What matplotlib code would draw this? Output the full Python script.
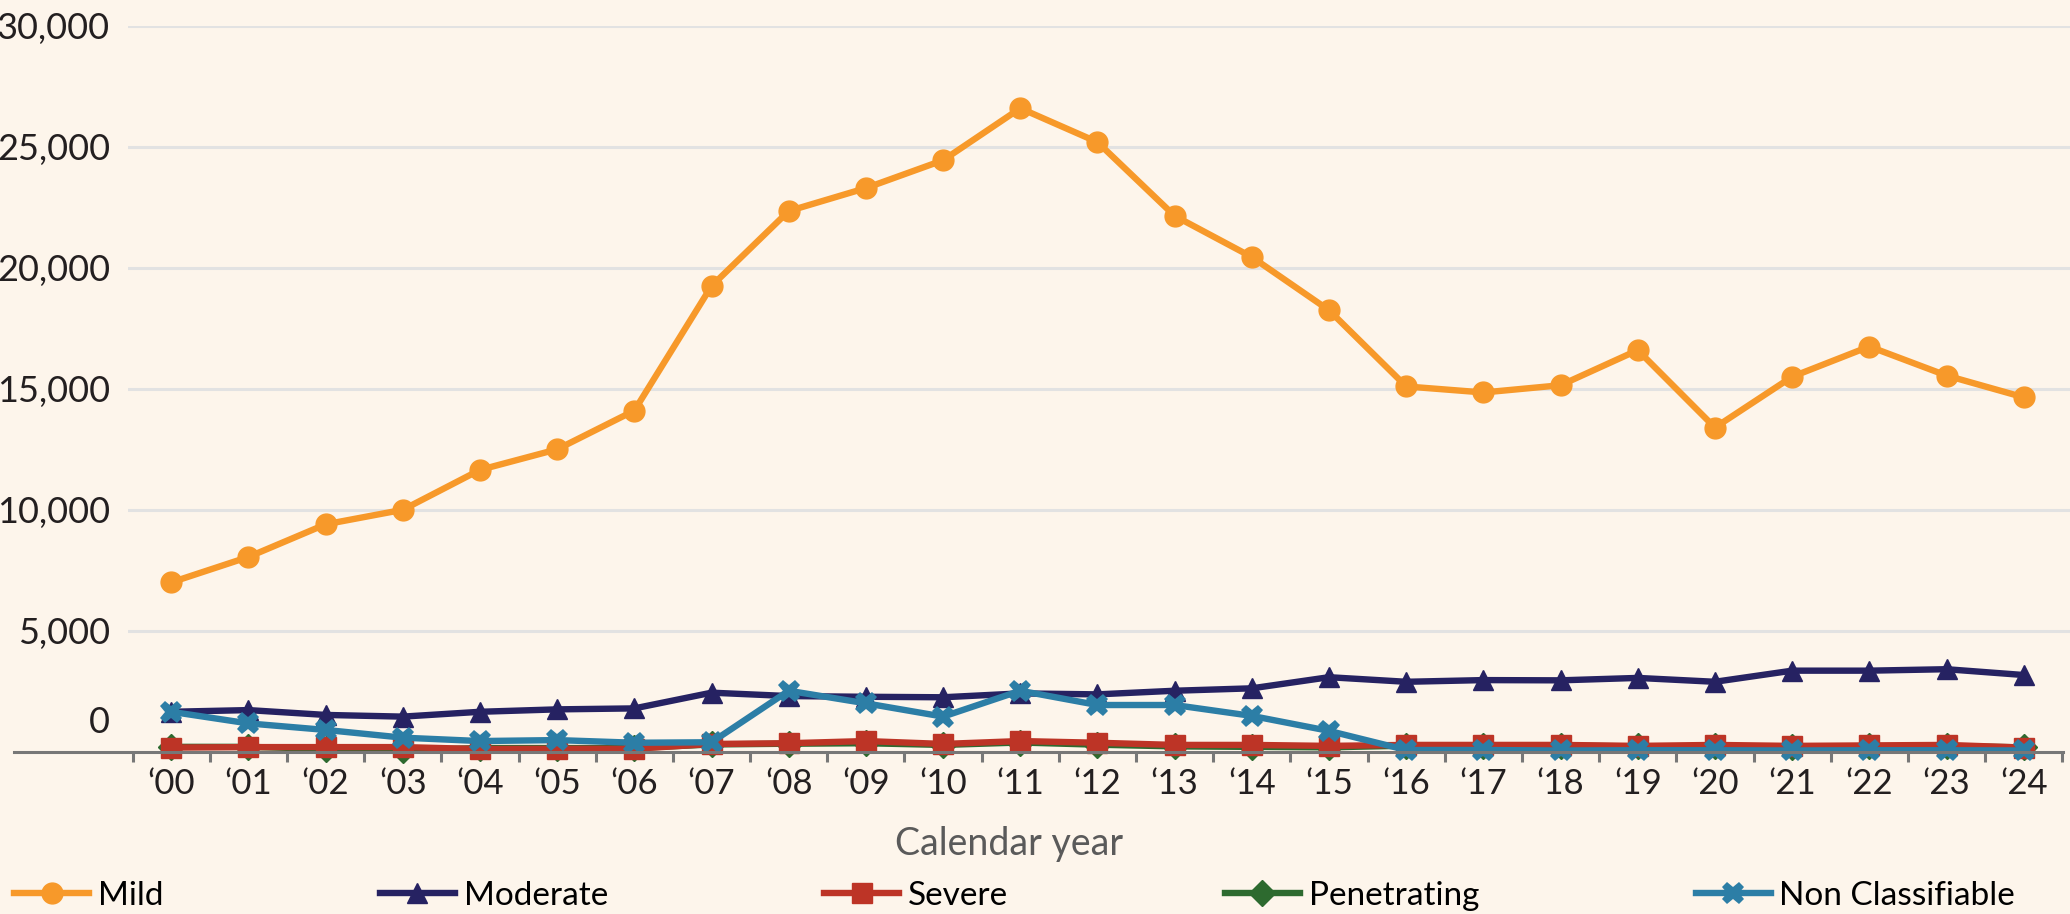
import matplotlib
matplotlib.use("Agg")
import matplotlib.pyplot as plt
from matplotlib.lines import Line2D
from matplotlib.ticker import FuncFormatter, FixedLocator
import matplotlib.transforms as mtransforms

plt.rcParams['font.family'] = ['Lato', 'DejaVu Sans']

years = ["\u2018%02d" % y for y in range(0, 25)]

mild = [7000, 8050, 9400, 10000, 11650, 12500, 14100, 19250, 22350, 23300, 24450, 26600, 25200,
        22150, 20450, 18250, 15100, 14850, 15150, 16600, 13400, 15500, 16750, 15550, 14650]
moderate = [1650, 1720, 1520, 1450, 1650, 1750, 1790, 2440, 2300, 2270, 2250, 2410, 2370,
            2520, 2620, 3080, 2890, 2960, 2950, 3050, 2890, 3350, 3350, 3410, 3170]
severe = [170, 190, 190, 190, 110, 120, 120, 320, 350, 440, 320, 440, 370,
          280, 280, 240, 280, 280, 280, 240, 280, 240, 260, 280, 170]
penetrating = [200, 200, 120, 60, 150, 150, 150, 300, 330, 350, 280, 380, 290,
               220, 200, 180, 250, 250, 250, 220, 230, 200, 220, 230, 180]
non_class = [1650, 1170, 900, 580, 440, 480, 370, 390, 2520, 2000, 1450, 2520, 1930,
             1930, 1480, 860, 70, 70, 50, 60, 60, 50, 60, 60, 50]

bg = '#fdf5eb'
W, H = 2070, 914
fig = plt.figure(figsize=(W / 100, H / 100), dpi=100, facecolor=bg)
ax = fig.add_axes([128 / W, (H - 751.7) / H, 1 - 128 / W, (751.7 - 26) / H])
ax.set_facecolor(bg)

x = list(range(len(years)))
lw = 4.6
ax.plot(x, mild, color='#f7992a', lw=lw, marker='o', ms=15, label='Mild', clip_on=False, zorder=3)
ax.plot(x, moderate, color='#262262', lw=lw, marker='^', ms=15, label='Moderate', clip_on=False, zorder=3)
ax.plot(x, severe, color='#bd3426', lw=lw, marker='s', ms=14, label='Severe', clip_on=False, zorder=4)
ax.plot(x, penetrating, color='#2d6a2f', lw=lw, marker='D', ms=13, label='Penetrating', clip_on=False, zorder=3.5)
ax.plot(x, non_class, color='#2c7ea6', lw=lw, marker='X', ms=16, mew=0, label='Non Classifiable',
        clip_on=False, zorder=5)

ax.set_xlim(-0.56, 24.6)
ax.set_ylim(0, 30000)

ax.set_yticks([5000, 10000, 15000, 20000, 25000, 30000])
ax.yaxis.set_major_formatter(FuncFormatter(lambda v, p: '{:,.0f}'.format(v)))
ax.tick_params(axis='y', length=0, pad=13, labelsize=26, labelcolor='#231f20')
ax.grid(axis='y', color='#e2e2e2', lw=2.2, zorder=0)
ax.annotate('0', xy=(0, 0), xycoords=ax.get_yaxis_transform(), xytext=(-18, 29),
            textcoords='offset pixels', ha='right', va='center', fontsize=26, color='#231f20')

ax.set_xticks(x)
ax.set_xticklabels(years)
ax.xaxis.set_minor_locator(FixedLocator([i - 0.5 for i in range(len(years) + 1)]))
ax.tick_params(axis='x', which='major', length=0, pad=12, labelsize=25, labelcolor='#231f20')
ax.tick_params(axis='x', which='minor', length=7, width=2.2, color='#777777', direction='out')

for s in ['top', 'right', 'left', 'bottom']:
    ax.spines[s].set_visible(False)

# axis line reaches past the plot area on the left
trans = mtransforms.blended_transform_factory(fig.transFigure, ax.transData)
fig.add_artist(Line2D([14 / W, 2063 / W], [0, 0], transform=trans, color='#777777', lw=2.2, zorder=2))

fig.text(1009 / W, (H - 844) / H, 'Calendar year', ha='center', va='center', fontsize=27, color='#5a5a5a')

fig.legend(*ax.get_legend_handles_labels(), loc='center left', bbox_to_anchor=(14 / W, (H - 896) / H),
           ncol=5, frameon=False, fontsize=24, handlelength=2.25, handletextpad=0.26,
           columnspacing=6.5, borderpad=0, borderaxespad=0, numpoints=1)

fig.savefig('out.png', dpi=100, facecolor=bg)
